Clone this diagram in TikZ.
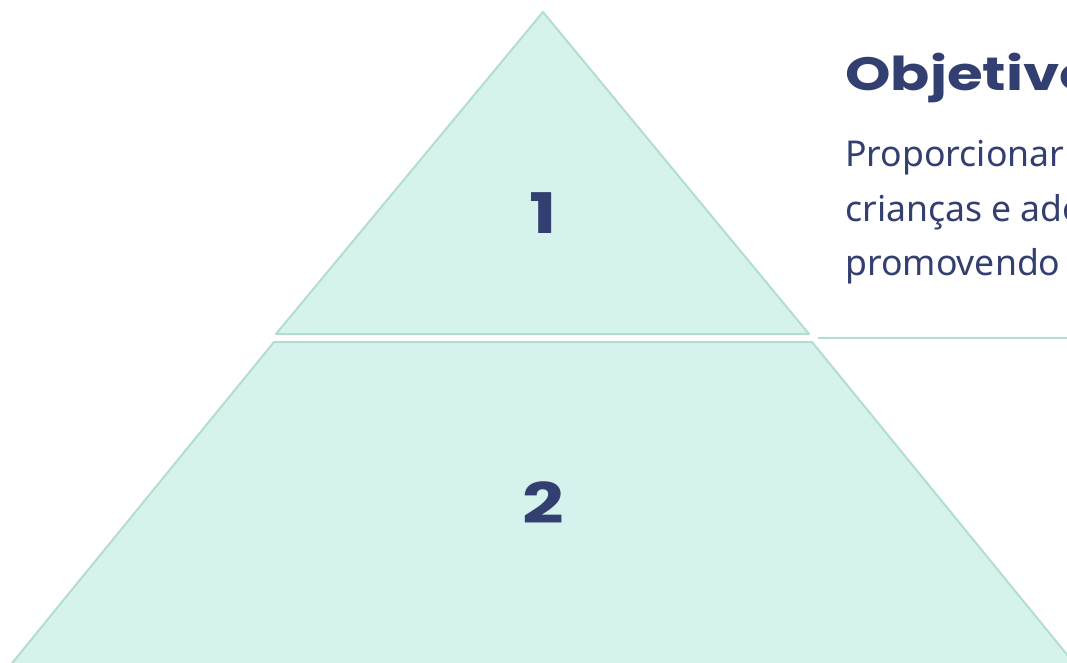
\documentclass[tikz,border=0pt]{standalone}
\usepackage{fontspec}
\setmainfont{Noto Sans}
\newfontfamily\headfont{Poppins}
\definecolor{pyrfill}{HTML}{D5F3EC}
\definecolor{pyrline}{HTML}{B3DDD2}
\definecolor{navy}{HTML}{333F70}
\tikzset{
  level/.style={fill=pyrfill, draw=pyrline, line width=1.5pt, line join=round},
  levelnum/.style={text=navy, inner sep=0pt, font=\headfont\bfseries\fontsize{42}{42}\selectfont},
  bodytext/.style={text=navy, anchor=base west, inner sep=0pt, font=\fontsize{26.7}{26.7}\selectfont}
}
\begin{document}
\begin{tikzpicture}[x=0.75pt, y=-0.75pt]
    % Frame (pixels of the reference)
    \clip (0,0) rectangle (1067,663);

    % Top level: triangle
    \coordinate (apex) at (543,12);
    \coordinate (topL) at (276,334);
    \coordinate (topR) at (809,334);
    \draw[level] (apex) -- (topR) -- (topL) -- cycle;

    % Second level: trapezoid, running out of the frame
    \coordinate (midL) at (274,342);
    \coordinate (midR) at (812,342);
    \draw[level] (midL) -- (midR) -- (1104,700) -- (-18,700) -- cycle;

    % Level numbers
    \node[levelnum] (n1) at (543,213) {\scalebox{1.3}[1]{1}};
    \node[levelnum] (n2) at (543,503) {\scalebox{1.3}[1]{2}};

    % Objective text beside the top level
    \node[text=navy, anchor=base west, inner sep=0pt,
          font=\headfont\bfseries\fontsize{35}{35}\selectfont]
          (title) at (845,91) {\scalebox{1.24}[1]{Objetivo}};
    \node[bodytext] (line1) at (845,167) {Proporcionar a todas as};
    \node[bodytext] (line2) at (845,221) {crianças e adolescentes};
    \node[bodytext] (line3) at (845,275) {promovendo o};

    % Divider under the text
    \coordinate (divL) at (818,338);
    \coordinate (divR) at (1080,338);
    \draw[pyrline, line width=1.5pt] (divL) -- (divR);
\end{tikzpicture}
\end{document}
